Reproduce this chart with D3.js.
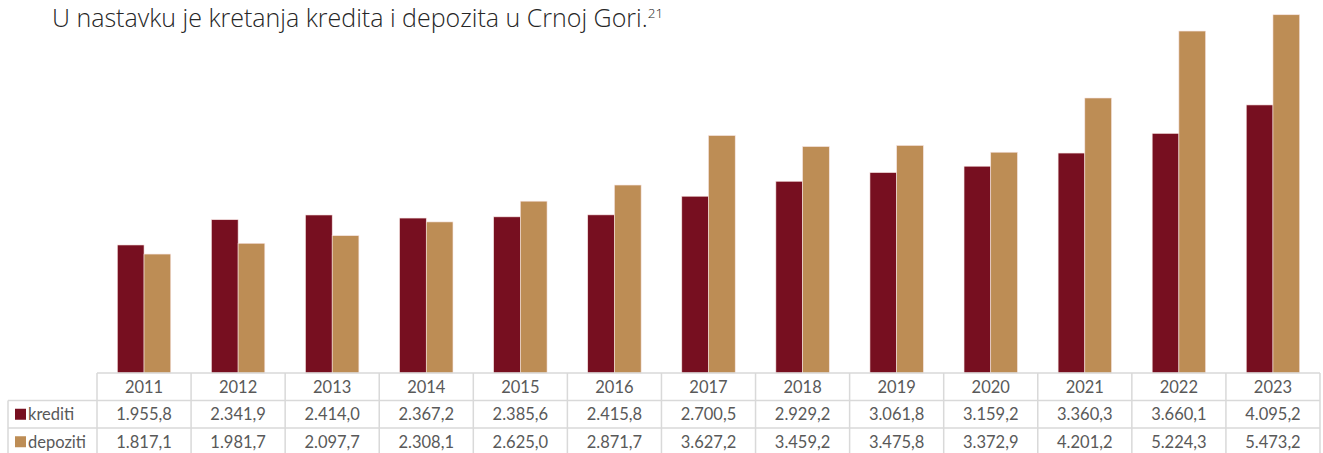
<!DOCTYPE html>
<html>
<head>
<meta charset="utf-8">
<script src="https://cdn.jsdelivr.net/npm/d3@7"></script>
<style>
  body { margin: 0; background: #fff; }
  svg { display: block; }
</style>
</head>
<body>
<svg id="chart"></svg>
<script>
// Data
const years = ["2011", "2012", "2013", "2014", "2015", "2016", "2017", "2018", "2019", "2020", "2021", "2022", "2023"];
const krediti = [1955.8, 2341.9, 2414.0, 2367.2, 2385.6, 2415.8, 2700.5, 2929.2, 3061.8, 3159.2, 3360.3, 3660.1, 4095.2];
const depoziti = [1817.1, 1981.7, 2097.7, 2308.1, 2625.0, 2871.7, 3627.2, 3459.2, 3475.8, 3372.9, 4201.2, 5224.3, 5473.2];
const seriesNames = ["krediti", "depoziti"];
const colors = ["#770f20", "#bd8d55"];

const width = 1323;
const height = 453;

// Table / plot geometry
const tableLeft = 8;
const colStart = 97;
const colEnd = 1320;
const baseY = 373;
const rowH = 27.5;

const svg = d3.select("#chart")
    .attr("width", width)
    .attr("height", height);

// Intro text
const intro = svg.append("text")
    .attr("x", 52)
    .attr("y", 27)
    .attr("font-family", "Open Sans")
    .attr("font-weight", 300)
    .attr("font-size", 25)
    .attr("fill", "#262626");
intro.append("tspan").text("U nastavku je kretanja kredita i depozita u Crnoj Gori.");
intro.append("tspan").attr("font-size", 13.5).attr("dy", -9).text("21");

// Scales
const x = d3.scaleBand()
    .domain(years)
    .range([colStart, colEnd]);

const xSub = d3.scaleBand()
    .domain(seriesNames)
    .range([0, 53.4])
    .padding(0);

const y = d3.scaleLinear()
    .domain([0, 5500])
    .range([baseY, 13]);

const data = years.map((yr, i) => ({ year: yr, values: [krediti[i], depoziti[i]] }));

// Bars
const groups = svg.append("g")
    .selectAll("g")
    .data(data)
    .join("g")
    .attr("transform", d => `translate(${x(d.year) + (x.bandwidth() - 53.4) / 2}, 0)`);

groups.selectAll("rect")
    .data(d => d.values.map((v, i) => ({ key: seriesNames[i], value: v, color: colors[i] })))
    .join("rect")
    .attr("x", d => xSub(d.key))
    .attr("y", d => y(d.value))
    .attr("width", xSub.bandwidth())
    .attr("height", d => baseY - y(d.value))
    .attr("fill", d => d.color)
    .attr("stroke", "#f6e3e0")
    .attr("stroke-width", 0.6);

// Data table
const table = svg.append("g");
const lineColor = "#d9d9d9";

// horizontal lines
table.append("line")
    .attr("x1", colStart).attr("x2", colEnd)
    .attr("y1", baseY).attr("y2", baseY)
    .attr("stroke", lineColor).attr("stroke-width", 1.5);
[1, 2, 3].forEach(r => {
    table.append("line")
        .attr("x1", tableLeft).attr("x2", colEnd)
        .attr("y1", baseY + r * rowH).attr("y2", baseY + r * rowH)
        .attr("stroke", lineColor).attr("stroke-width", 1.5);
});

// vertical lines
years.concat(["end"]).forEach((yr, i) => {
    const xx = yr === "end" ? colEnd : x(yr);
    table.append("line")
        .attr("x1", xx).attr("x2", xx)
        .attr("y1", baseY).attr("y2", height)
        .attr("stroke", lineColor).attr("stroke-width", 1.5);
});
table.append("line")
    .attr("x1", tableLeft).attr("x2", tableLeft)
    .attr("y1", baseY + rowH).attr("y2", height)
    .attr("stroke", lineColor).attr("stroke-width", 1.5);

const fmt = v => {
    const s = v.toFixed(1).split(".");
    const intPart = s[0].replace(/\B(?=(\d{3})+(?!\d))/g, ".");
    return intPart + "," + s[1];
};

const textStyle = sel => sel
    .attr("font-family", "Lato")
    .attr("font-size", 16.5)
    .attr("fill", "#595959")
    .attr("dominant-baseline", "central");

// header years
table.selectAll(".yr")
    .data(years)
    .join("text")
    .attr("class", "yr")
    .attr("x", d => x(d) + x.bandwidth() / 2)
    .attr("y", baseY + rowH / 2)
    .attr("text-anchor", "middle")
    .text(d => d)
    .call(textStyle);

// rows
[krediti, depoziti].forEach((vals, r) => {
    const cy = baseY + rowH * (r + 1) + rowH / 2;
    table.append("rect")
        .attr("x", 15).attr("y", cy - 5.5)
        .attr("width", 11).attr("height", 11)
        .attr("fill", colors[r]);
    table.append("text")
        .attr("x", 28).attr("y", cy)
        .text(seriesNames[r])
        .call(textStyle);
    table.selectAll(".v" + r)
        .data(vals)
        .join("text")
        .attr("class", "v" + r)
        .attr("x", (d, i) => x(years[i]) + x.bandwidth() / 2)
        .attr("y", cy)
        .attr("text-anchor", "middle")
        .text(d => fmt(d))
        .call(textStyle);
});
</script>
</body>
</html>
